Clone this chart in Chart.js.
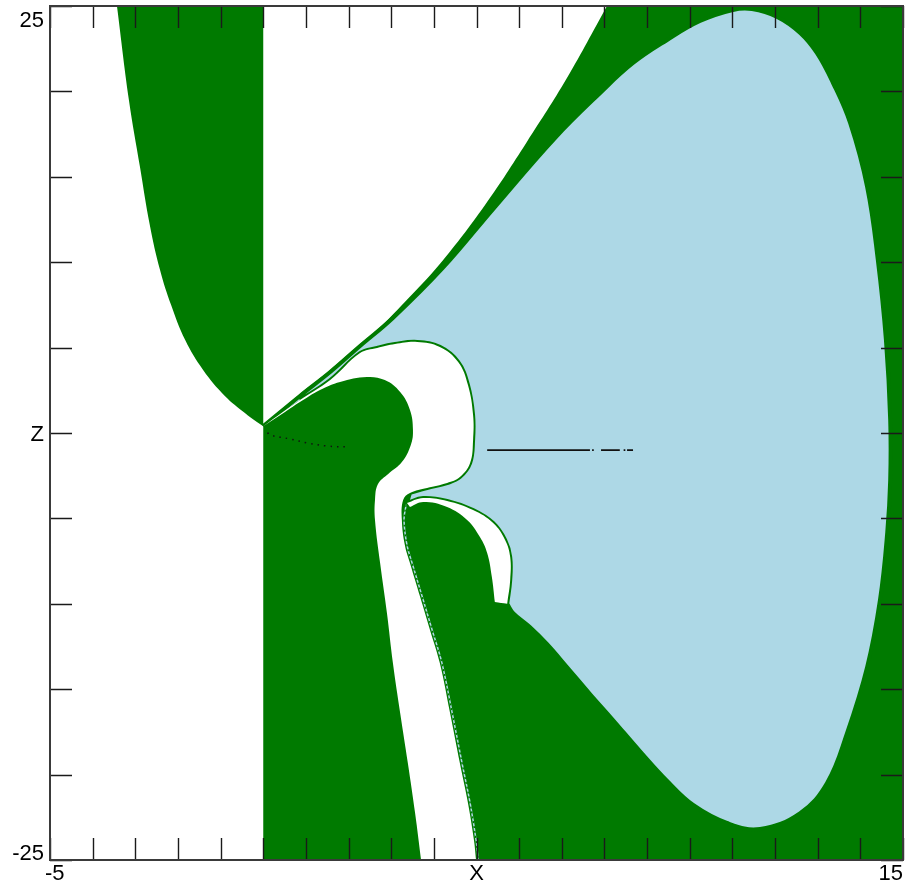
<!DOCTYPE html>
<html><head><meta charset="utf-8">
<script src="https://cdn.jsdelivr.net/npm/chart.js@4.4.0/dist/chart.umd.min.js"></script>
<style>html,body{margin:0;padding:0;background:#fff;}canvas{display:block;}</style>
</head><body>
<canvas id="c" width="916" height="884"></canvas>
<script>
// ---- axis definitions ----
const xRange = [-5, 15];
const zRange = [-25, 25];
const xTicks = [-5,-4,-3,-2,-1,0,1,2,3,4,5,6,7,8,9,10,11,12,13,14,15];
const zTicks = [-25,-20,-15,-10,-5,0,5,10,15,20,25];
const xTickLabels = [[-5,'-5'],[5,'X'],[15,'15']];
const zTickLabels = [[25,'25'],[0,'Z'],[-25,'-25']];

// ---- region boundaries (X, Z); repeated points mark sharp corners ----
const plotBox = [[-5,-25],[15,-25],[15,25],[-5,25]];
const leftWhite = [[-5,25],[-3.43,25],[-3.43,25],[-3.15,19.50],[-2.89,15.57],[-2.66,12.18],[-2.42,9.54],[-2.16,7.49],[-1.83,5.44],[-1.41,3.69],[-0.90,2.17],[-0.43,1.17],[-0.19,0.72],[0,0.4],[0,0.4],[0,-25],[0,-25],[-5,-25]];
const topWhite = [[0,25],[0,0.4],[0,0.4],[0.86,2.28],[1.57,3.69],[2.27,5.21],[2.67,6.03],[3.32,7.67],[4.14,9.89],[5.20,13.35],[6.18,17.04],[7.12,20.78],[8.06,25]];
const blueRegion = [[0,0.4],[0.86,2.17],[1.57,3.57],[2.27,5.09],[3.04,6.73],[4.21,9.66],[5.39,13.11],[6.84,17.27],[7.90,19.91],[8.67,21.66],[9.47,23.01],[10.24,24.12],[11.01,24.77],[11.46,24.82],[12.05,24.36],[12.59,23.42],[12.98,22.25],[13.36,20.49],[13.76,18.15],[14.16,14.40],[14.41,10.13],[14.60,5.44],[14.70,0.76],[14.70,-2.75],[14.63,-5.85],[14.46,-9.78],[14.16,-13.70],[13.69,-17.56],[13.22,-20.49],[12.59,-22.25],[11.65,-23.18],[10.87,-22.83],[10.08,-21.78],[9.47,-20.37],[8.83,-18.62],[8.20,-16.80],[7.66,-15.28],[7.12,-13.70],[6.65,-12.35],[6.25,-11.36],[5.86,-10.54],[5.72,-10.0],[5.72,-10.0],[5.79,-8.61],[5.79,-7.26],[5.67,-6.26],[5.39,-5.27],[4.92,-4.51],[4.31,-3.98],[3.75,-3.81],[3.37,-4.10],[3.37,-4.10],[3.44,-3.51],[3.44,-3.51],[3.84,-3.22],[4.31,-2.93],[4.61,-2.58],[4.85,-1.76],[4.92,-0.41],[4.92,1.05],[4.80,2.81],[4.57,4.16],[4.14,5.04],[3.61,5.33],[3.09,5.21],[2.67,4.98],[2.27,4.68],[1.57,3.10],[0.86,1.93]];
const whiteBand1 = [[0,0.4],[0.86,1.93],[1.57,3.10],[2.27,4.68],[2.67,4.98],[3.09,5.21],[3.61,5.33],[4.14,5.04],[4.57,4.16],[4.80,2.81],[4.92,1.05],[4.92,-0.41],[4.85,-1.76],[4.61,-2.58],[4.31,-2.93],[3.84,-3.22],[3.44,-3.51],[3.28,-3.92],[3.25,-5.09],[3.32,-6.56],[3.44,-7.61],[3.68,-9.60],[3.91,-11.53],[4.14,-13.47],[4.38,-16.39],[4.61,-19.32],[4.80,-21.66],[4.94,-23.83],[4.99,-25],[4.99,-25],[3.70,-25],[3.70,-25],[3.56,-22.25],[3.39,-19.32],[3.21,-16.39],[3.04,-13.47],[2.90,-10.54],[2.74,-7.61],[2.62,-5.09],[2.62,-3.92],[2.69,-2.99],[2.93,-2.40],[3.25,-1.70],[3.46,-0.70],[3.51,0.18],[3.44,1.35],[3.21,2.40],[2.85,3.10],[2.43,3.28],[1.80,2.99],[1.33,2.52],[0.86,1.81],[0.51,1.23]];
const whiteBand2 = [[3.37,-4.10],[3.75,-3.81],[4.31,-3.98],[4.92,-4.51],[5.39,-5.27],[5.67,-6.26],[5.79,-7.26],[5.79,-8.61],[5.72,-10.0],[5.72,-10.0],[5.43,-9.89],[5.43,-9.89],[5.36,-8.43],[5.25,-7.03],[5.08,-6.09],[4.78,-5.09],[4.31,-4.33],[3.75,-4.04],[3.44,-4.33]];
const tailEdge = [[3.35,-4.2],[3.30,-5.09],[3.37,-6.56],[3.49,-7.61],[3.73,-9.60],[3.96,-11.53],[4.19,-13.47],[4.43,-16.39],[4.66,-19.32],[4.85,-21.66],[4.99,-23.83],[5.04,-25]];
const blackLineZ = -1.0;
const blackLineSegments = [[5.25,7.66],[7.71,7.75],[7.92,8.36],[8.45,8.49],[8.53,8.67]];
const dottedTrail = [[0.10,0.02],[0.16,-0.12],[0.63,-0.35],[1.03,-0.58],[1.49,-0.76],[1.99,-0.82]];

const GREEN = '#007a00';
const LIGHTBLUE = '#add8e6';
const SMOOTH = 0.4;

const pts = a => a.map(p => ({x: p[0], y: p[1]}));
function poly(label, arr, color, order, tension, extra) {
  return Object.assign({label, data: pts(arr), order, fill: 'shape', backgroundColor: color,
    borderColor: 'rgba(0,0,0,0)', borderWidth: 0, pointRadius: 0, tension: tension}, extra || {});
}
const lineData = [];
blackLineSegments.forEach(s => { lineData.push({x: s[0], y: blackLineZ}, {x: s[1], y: blackLineZ}, {x: (s[1] + 0.01), y: null}); });

const datasets = [
  {label: 'line', data: lineData, order: 0, fill: false, borderColor: '#111', borderWidth: 1.6, pointRadius: 0, spanGaps: false, tension: 0},
  {label: 'trail', data: pts(dottedTrail), order: 1, fill: false, borderColor: '#111', borderWidth: 1.5, borderDash: [1.5, 5], pointRadius: 0, tension: SMOOTH},
  {label: 'tailEdgeGreen', data: pts(tailEdge), order: 2, fill: false, borderColor: GREEN, borderWidth: 1.5, borderDash: [2, 3], pointRadius: 0, tension: SMOOTH},
  {label: 'tailEdgeBlue', data: pts(tailEdge), order: 3, fill: false, borderColor: LIGHTBLUE, borderWidth: 1.5, pointRadius: 0, tension: SMOOTH},
  poly('band2', whiteBand2, '#ffffff', 4, SMOOTH),
  poly('band1', whiteBand1, '#ffffff', 5, SMOOTH),
  poly('blue', blueRegion, LIGHTBLUE, 6, SMOOTH, {borderColor: GREEN, borderWidth: 4}),
  poly('topWhite', topWhite, '#ffffff', 7, SMOOTH),
  poly('leftWhite', leftWhite, '#ffffff', 8, SMOOTH),
  poly('base', plotBox, GREEN, 9, 0)
];

const TICK = 22;
const FONT = '22px "Liberation Sans", Arial, Helvetica, sans-serif';
const frame = {
  id: 'frame',
  afterDraw(chart) {
    const {ctx, chartArea: a} = chart;
    const sx = chart.scales.x, sy = chart.scales.y;
    ctx.save();
    ctx.strokeStyle = '#1a1a1a';
    ctx.lineWidth = 1.4;
    ctx.beginPath();
    xTicks.forEach(v => {
      const p = Math.round(sx.getPixelForValue(v)) + 0.5;
      ctx.moveTo(p, a.bottom); ctx.lineTo(p, a.bottom - TICK);
      ctx.moveTo(p, a.top); ctx.lineTo(p, a.top + TICK);
    });
    zTicks.forEach(v => {
      const p = Math.round(sy.getPixelForValue(v)) + 0.5;
      ctx.moveTo(a.left, p); ctx.lineTo(a.left + TICK, p);
      ctx.moveTo(a.right, p); ctx.lineTo(a.right - TICK, p);
    });
    ctx.stroke();
    ctx.strokeStyle = '#3a3a3a';
    ctx.lineWidth = 2;
    ctx.strokeRect(a.left, a.top, a.right - a.left, a.bottom - a.top);
    ctx.fillStyle = '#000';
    ctx.font = FONT;
    ctx.textBaseline = 'alphabetic';
    ctx.textAlign = 'right';
    zTickLabels.forEach(([v, t]) => {
      const p = sy.getPixelForValue(v);
      const base = Math.min(Math.max(p + 8, a.top + 21), a.bottom);
      ctx.fillText(t, a.left - 6, base);
    });
    ctx.textAlign = 'left';
    xTickLabels.forEach(([v, t]) => {
      const p = sx.getPixelForValue(v);
      const w = ctx.measureText(t).width;
      let left = p - w / 2;
      left = Math.max(left, a.left - 5);
      left = Math.min(left, a.right - w);
      ctx.fillText(t, left, a.bottom + 20);
    });
    ctx.restore();
  }
};

new Chart(document.getElementById('c'), {
  type: 'line',
  data: {datasets},
  options: {
    responsive: false,
    animation: false,
    events: [],
    layout: {padding: {left: 50, right: 13, top: 6, bottom: 24}},
    scales: {
      x: {type: 'linear', min: xRange[0], max: xRange[1], display: false},
      y: {type: 'linear', min: zRange[0], max: zRange[1], display: false}
    },
    plugins: {legend: {display: false}, tooltip: {enabled: false}},
    elements: {point: {radius: 0}, line: {tension: 0, capBezierPoints: true}}
  },
  plugins: [frame]
});
</script>
</body></html>
